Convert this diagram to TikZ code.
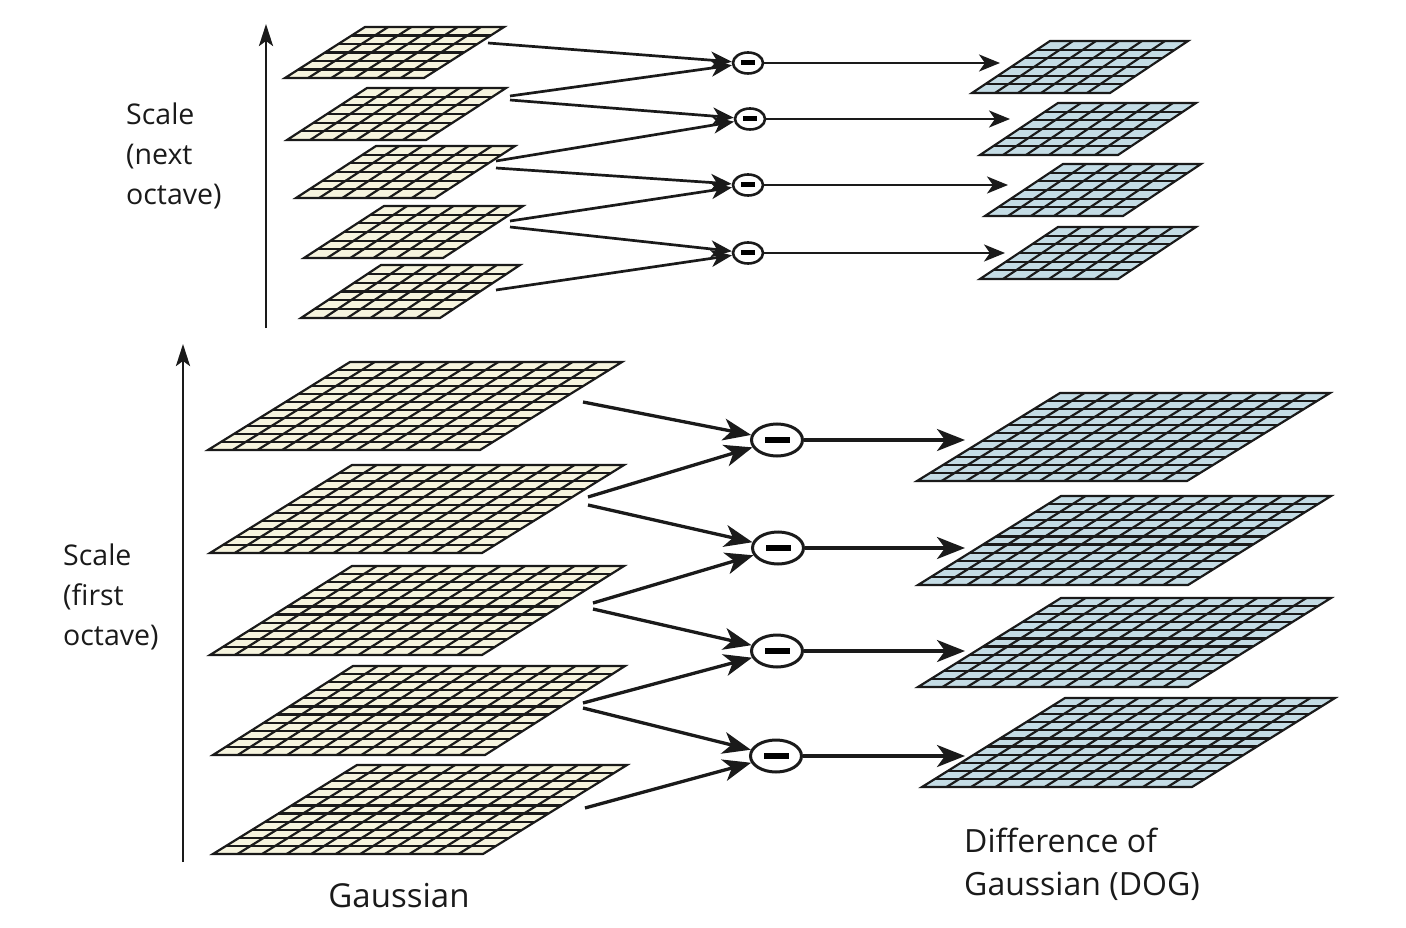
\documentclass[tikz,border=0pt]{standalone}
\usepackage{fontspec}
\setmainfont{Open Sans}
\usetikzlibrary{arrows.meta,shapes.geometric}
\definecolor{gcream}{RGB}{246,244,222}
\definecolor{dblue}{RGB}{196,220,229}
\definecolor{ink}{RGB}{26,26,26}
\tikzset{
  gridline/.style={draw=ink,line width=2.2pt,line join=miter},
  bigarrow/.style={draw=ink,line width=3.3pt,-{Stealth[length=28pt,width=22pt,inset=8pt]}},
  smallarrow/.style={draw=ink,line width=2.7pt,-{Stealth[length=21pt,width=17pt,inset=6pt]}},
  scalearrow/.style={draw=ink,line width=2.8pt,-{Stealth[length=22pt,width=14pt,inset=5pt]}},
  bigminus/.style={ellipse,draw=ink,line width=3pt,fill=white,minimum width=51pt,minimum height=32pt,inner sep=0pt},
  smallminus/.style={ellipse,draw=ink,line width=2.6pt,fill=white,minimum width=30pt,minimum height=21pt,inner sep=0pt},
  lbl/.style={inner sep=0pt,font=\fontsize{28.5}{40}\selectfont,align=left,text=ink},
}
% x y w off h ncol nrow fill
\newcommand\glayer[8]{%
  \draw[gridline,fill=#8] (#1,#2) -- ++(#3,0) -- ++(#4,-#5) -- ++(-#3,0) -- cycle;
  \foreach \i in {1,...,\numexpr#6-1\relax}{\draw[gridline] ({#1+\i*#3/#6},#2) -- ++(#4,-#5);}
  \foreach \j in {1,...,\numexpr#7-1\relax}{\draw[gridline] ({#1+\j*#4/#7},{#2-\j*#5/#7}) -- ++(#3,0);}
}
\begin{document}
\begin{tikzpicture}[x=1pt,y=-1pt]
\useasboundingbox (0,0) rectangle (1406,928);
% ---------- first octave Gaussian
\glayer{208}{450}{272}{142}{88}{11}{11}{gcream}
\glayer{210}{553}{272}{142}{88}{11}{11}{gcream}
\glayer{210}{655}{272}{142}{89}{11}{11}{gcream}
\glayer{213}{755}{272}{140}{89}{11}{11}{gcream}
\glayer{213}{854}{270}{144}{89}{11}{11}{gcream}
% ---------- first octave DoG
\glayer{917}{481}{270}{143}{88}{11}{11}{dblue}
\glayer{918}{585}{270}{143}{89}{11}{11}{dblue}
\glayer{918}{687}{270}{143}{89}{11}{11}{dblue}
\glayer{922}{787}{270}{143}{89}{11}{11}{dblue}
% ---------- next octave Gaussian
\glayer{285}{78}{139}{80}{51}{6}{6}{gcream}
\glayer{287}{140}{139}{80}{52}{6}{6}{gcream}
\glayer{296}{198}{139}{80}{52}{6}{6}{gcream}
\glayer{304}{258}{139}{80}{52}{6}{6}{gcream}
\glayer{301}{318}{139}{80}{53}{6}{6}{gcream}
% ---------- next octave DoG
\glayer{972}{93}{138}{78}{52}{6}{6}{dblue}
\glayer{980}{155}{138}{78}{52}{6}{6}{dblue}
\glayer{985}{216}{138}{78}{52}{6}{6}{dblue}
\glayer{980}{279}{138}{78}{52}{6}{6}{dblue}

% ---------- minus nodes
\node[smallminus] (m1) at (748,63) {\rule{14pt}{5pt}};
\node[smallminus] (m2) at (750,119) {\rule{14pt}{5pt}};
\node[smallminus] (m3) at (748,185) {\rule{14pt}{5pt}};
\node[smallminus] (m4) at (748,253) {\rule{14pt}{5pt}};
\node[bigminus] (n1) at (777,440) {\rule{25pt}{6pt}};
\node[bigminus] (n2) at (778,548) {\rule{25pt}{6pt}};
\node[bigminus] (n3) at (777,651) {\rule{25pt}{6pt}};
\node[bigminus] (n4) at (776,756) {\rule{25pt}{6pt}};

% ---------- arrow start / end coordinates
\coordinate (a1) at (488,43);
\coordinate (a2u) at (510,96);  \coordinate (a2d) at (510,100);
\coordinate (a3u) at (496,161); \coordinate (a3d) at (496,168);
\coordinate (a4u) at (510,221); \coordinate (a4d) at (510,227);
\coordinate (a5) at (496,290);
\coordinate (e1) at (1000,63);
\coordinate (e2) at (1010,119);
\coordinate (e3) at (1008,185);
\coordinate (e4) at (1005,253);

\coordinate (b1) at (583,402);
\coordinate (b2u) at (588,497); \coordinate (b2d) at (588,505);
\coordinate (b3u) at (593,603); \coordinate (b3d) at (593,609);
\coordinate (b4u) at (583,703); \coordinate (b4d) at (583,708);
\coordinate (b5) at (585,808);
\coordinate (f1) at (965,440);
\coordinate (f2) at (965,548);
\coordinate (f3) at (965,651);
\coordinate (f4) at (965,756);

% ---------- connectors, next octave
\draw[smallarrow] (a1) -- (m1);
\draw[smallarrow] (a2u) -- (m1);
\draw[smallarrow] (a2d) -- (m2);
\draw[smallarrow] (a3u) -- (m2);
\draw[smallarrow] (a3d) -- (m3);
\draw[smallarrow] (a4u) -- (m3);
\draw[smallarrow] (a4d) -- (m4);
\draw[smallarrow] (a5) -- (m4);
\draw[smallarrow] (m1.east) -- (e1);
\draw[smallarrow] (m2.east) -- (e2);
\draw[smallarrow] (m3.east) -- (e3);
\draw[smallarrow] (m4.east) -- (e4);

% ---------- connectors, first octave
\draw[bigarrow] (b1) -- (n1);
\draw[bigarrow] (b2u) -- (n1);
\draw[bigarrow] (b2d) -- (n2);
\draw[bigarrow] (b3u) -- (n2);
\draw[bigarrow] (b3d) -- (n3);
\draw[bigarrow] (b4u) -- (n3);
\draw[bigarrow] (b4d) -- (n4);
\draw[bigarrow] (b5) -- (n4);
\draw[bigarrow] (n1.east) -- (f1);
\draw[bigarrow] (n2.east) -- (f2);
\draw[bigarrow] (n3.east) -- (f3);
\draw[bigarrow] (n4.east) -- (f4);

% ---------- scale axes
\coordinate (s1a) at (266,328); \coordinate (s1b) at (266,24);
\coordinate (s2a) at (183,862); \coordinate (s2b) at (183,344);
\draw[scalearrow] (s1a) -- (s1b);
\draw[scalearrow] (s2a) -- (s2b);

% ---------- labels
\node[lbl,anchor=north west] (t1) at (126,103) {Scale\\(next\\octave)};
\node[lbl,anchor=north west] (t2) at (63,544) {Scale\\(first\\octave)};
\node[inner sep=0pt,anchor=base,font=\fontsize{33}{40}\selectfont,text=ink] (t3) at (399,907) {Gaussian};
\node[inner sep=0pt,anchor=north west,font=\fontsize{32}{43}\selectfont,align=left,text=ink] (t4) at (964,828) {Difference of\\Gaussian (DOG)};
\end{tikzpicture}
\end{document}
